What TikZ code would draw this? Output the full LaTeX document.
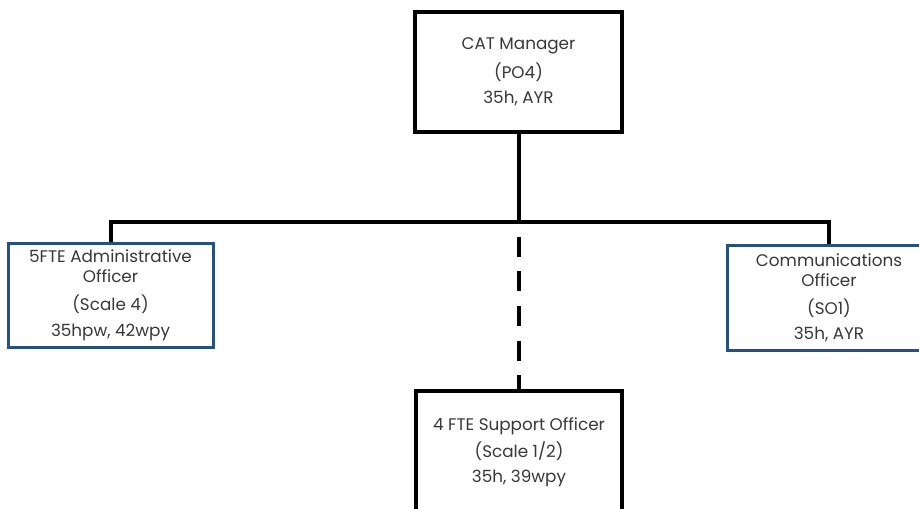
\documentclass[tikz,border=0pt]{standalone}
\usepackage{fontspec}
\setmainfont{Poppins}
\definecolor{postblue}{HTML}{25507F}
\definecolor{labelgrey}{HTML}{383838}
\begin{document}
\begin{tikzpicture}[x=0.75pt,y=-0.75pt,
  post/.style={draw=black,line width=3pt,fill=white,rectangle,
    minimum width=155pt,inner sep=0pt,text=labelgrey,align=center,
    font=\fontsize{12.6}{15}\selectfont},
  bluepost/.style={post,draw=postblue,line width=2.25pt},
  link/.style={line width=3pt,line join=miter},
  dashlink/.style={link,dash pattern=on 15pt off 11pt,dash phase=15pt}]
\useasboundingbox (0,0) rectangle (919,508);
\clip (0,0) rectangle (919,508);
% posts
\node[post,minimum height=90pt] (mgr) at (518.5,72)
  {CAT Manager\\[5pt](PO4)\\[4pt]35h, AYR};
\node[bluepost,minimum width=153.75pt,minimum height=78pt] (admin) at (110.5,295)
  {5FTE Administrative\\Officer\\[6.5pt](Scale 4)\\[4pt]35hpw, 42wpy};
\node[bluepost,minimum width=153pt,minimum height=78.75pt] (comms) at (829,297.5)
  {Communications\\Officer\\[6pt](SO1)\\[4pt]35h, AYR};
% the support post runs on below the page edge
\node[post,minimum height=104pt] (support) at (519,460.5)
  {4 FTE Support Officer\\[4pt](Scale 1/2)\\[4pt]35h, 39wpy\\[1pt]\mbox{}};
% reporting lines
\coordinate (hub) at (518.5,222);
\draw[link] (mgr.south) -- (hub);
\draw[link] (admin.north) |- (hub) -| (comms.north);
\draw[dashlink] (hub) -- (hub |- support.north);
\end{tikzpicture}
\end{document}
